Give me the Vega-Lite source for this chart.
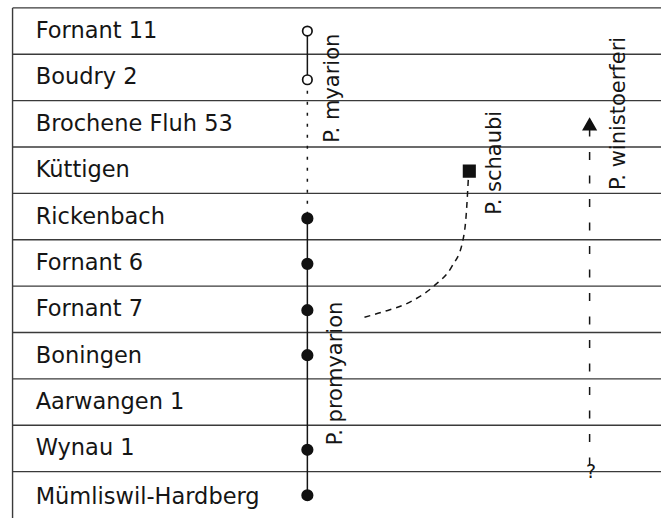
{
  "$schema": "https://vega.github.io/schema/vega-lite/v6.json",
  "width": 662,
  "height": 519,
  "autosize": {"type": "fit", "contains": "padding"},
  "padding": 0,
  "background": "white",
  "config": {"view": {"stroke": null}},
  "datasets": {
    "grid": [
      {"x": 1.9, "x2": 100, "y": 0, "y2": 0},
      {"x": 1.9, "x2": 100, "y": 1, "y2": 1},
      {"x": 1.9, "x2": 100, "y": 2, "y2": 2},
      {"x": 1.9, "x2": 100, "y": 3, "y2": 3},
      {"x": 1.9, "x2": 100, "y": 4, "y2": 4},
      {"x": 1.9, "x2": 100, "y": 5, "y2": 5},
      {"x": 1.9, "x2": 100, "y": 6, "y2": 6},
      {"x": 1.9, "x2": 100, "y": 7, "y2": 7},
      {"x": 1.9, "x2": 100, "y": 8, "y2": 8},
      {"x": 1.9, "x2": 100, "y": 9, "y2": 9},
      {"x": 1.9, "x2": 100, "y": 10, "y2": 10},
      {"x": 1.9, "x2": 1.9, "y": 0, "y2": 11}
    ],
    "sites": [
      {"site": "Fornant 11", "row": 0.5},
      {"site": "Boudry 2", "row": 1.5},
      {"site": "Brochene Fluh 53", "row": 2.5},
      {"site": "Küttigen", "row": 3.5},
      {"site": "Rickenbach", "row": 4.5},
      {"site": "Fornant 6", "row": 5.5},
      {"site": "Fornant 7", "row": 6.5},
      {"site": "Boningen", "row": 7.5},
      {"site": "Aarwangen 1", "row": 8.5},
      {"site": "Wynau 1", "row": 9.5},
      {"site": "Mümliswil-Hardberg", "row": 10.55}
    ],
    "lineages": [
      {"x": 46.5, "y": 0.5, "x2": 46.5, "y2": 1.55, "style": "solid"},
      {"x": 46.5, "y": 1.55, "x2": 46.5, "y2": 4.54, "style": "dotted"},
      {"x": 46.5, "y": 4.54, "x2": 46.5, "y2": 10.51, "style": "solid"},
      {"x": 89.2, "y": 2.6, "x2": 89.2, "y2": 9.85, "style": "dashed"}
    ],
    "curve": [
      {"x": 70.85, "y": 3.69},
      {"x": 70.54, "y": 4.44},
      {"x": 69.94, "y": 5.07},
      {"x": 68.43, "y": 5.56},
      {"x": 65.71, "y": 5.99},
      {"x": 61.93, "y": 6.35},
      {"x": 57.85, "y": 6.56},
      {"x": 55.14, "y": 6.67}
    ],
    "finds": [
      {"x": 46.5, "y": 0.5, "kind": "open"},
      {"x": 46.5, "y": 1.55, "kind": "open"},
      {"x": 46.5, "y": 4.54, "kind": "filled"},
      {"x": 46.5, "y": 5.52, "kind": "filled"},
      {"x": 46.5, "y": 6.52, "kind": "filled"},
      {"x": 46.5, "y": 7.49, "kind": "filled"},
      {"x": 46.5, "y": 9.53, "kind": "filled"},
      {"x": 46.5, "y": 10.51, "kind": "filled"},
      {"x": 71.0, "y": 3.52, "kind": "square"},
      {"x": 89.2, "y": 2.51, "kind": "triangle"}
    ],
    "taxa": [
      {"name": "P. myarion", "x": 51.3, "y": 2.91},
      {"name": "P. promyarion", "x": 51.7, "y": 9.43},
      {"name": "P. schaubi", "x": 75.8, "y": 4.46},
      {"name": "P. winistoerferi", "x": 94.6, "y": 3.93}
    ],
    "query": [
      {"label": "?", "x": 89.4, "y": 10.0}
    ]
  },
  "layer": [
    {
      "data": {"name": "grid"},
      "mark": {"type": "rule", "stroke": "#3a3a3a", "strokeWidth": 1.4},
      "encoding": {
        "x": {"field": "x", "type": "quantitative", "scale": {"domain": [0, 100], "nice": false, "zero": false}, "axis": null},
        "x2": {"field": "x2"},
        "y": {"field": "y", "type": "quantitative", "scale": {"domain": [-0.17, 10.85], "reverse": true, "nice": false, "zero": false}, "axis": null},
        "y2": {"field": "y2"}
      }
    },
    {
      "data": {"name": "sites"},
      "mark": {"type": "text", "font": "DejaVu Sans", "fontSize": 22.5, "align": "left", "baseline": "middle", "color": "#151515"},
      "encoding": {
        "x": {"datum": 5.4, "type": "quantitative"},
        "y": {"field": "row", "type": "quantitative"},
        "text": {"field": "site"}
      }
    },
    {
      "data": {"name": "lineages"},
      "mark": {"type": "rule", "stroke": "#151515", "strokeWidth": 1.5},
      "encoding": {
        "x": {"field": "x", "type": "quantitative"},
        "x2": {"field": "x2"},
        "y": {"field": "y", "type": "quantitative"},
        "y2": {"field": "y2"},
        "strokeDash": {"field": "style", "type": "nominal", "scale": {"domain": ["solid", "dotted", "dashed"], "range": [[1, 0], [3, 8], [8, 15.5]]}, "legend": null}
      }
    },
    {
      "data": {"name": "curve"},
      "mark": {"type": "line", "stroke": "#151515", "strokeWidth": 1.5, "strokeDash": [6, 5], "interpolate": "monotone"},
      "encoding": {
        "x": {"field": "x", "type": "quantitative"},
        "y": {"field": "y", "type": "quantitative"}
      }
    },
    {
      "data": {"name": "finds"},
      "mark": {"type": "point", "strokeWidth": 1.7},
      "encoding": {
        "x": {"field": "x", "type": "quantitative"},
        "y": {"field": "y", "type": "quantitative"},
        "shape": {"field": "kind", "type": "nominal", "scale": {"domain": ["open", "filled", "square", "triangle"], "range": ["circle", "circle", "square", "triangle-up"]}, "legend": null},
        "size": {"field": "kind", "type": "nominal", "scale": {"domain": ["open", "filled", "square", "triangle"], "range": [90, 150, 65, 40]}, "legend": null},
        "fill": {"field": "kind", "type": "nominal", "scale": {"domain": ["open", "filled", "square", "triangle"], "range": ["white", "#111111", "#111111", "#111111"]}, "legend": null},
        "stroke": {"value": "#111111"},
        "opacity": {"value": 1}
      }
    },
    {
      "data": {"name": "taxa"},
      "mark": {"type": "text", "font": "DejaVu Sans", "fontSize": 21, "angle": 270, "align": "left", "baseline": "alphabetic", "color": "#151515"},
      "encoding": {
        "x": {"field": "x", "type": "quantitative"},
        "y": {"field": "y", "type": "quantitative"},
        "text": {"field": "name"}
      }
    },
    {
      "data": {"name": "query"},
      "mark": {"type": "text", "font": "DejaVu Sans", "fontSize": 19, "align": "center", "baseline": "middle", "color": "#151515"},
      "encoding": {
        "x": {"field": "x", "type": "quantitative"},
        "y": {"field": "y", "type": "quantitative"},
        "text": {"field": "label"}
      }
    }
  ]
}
